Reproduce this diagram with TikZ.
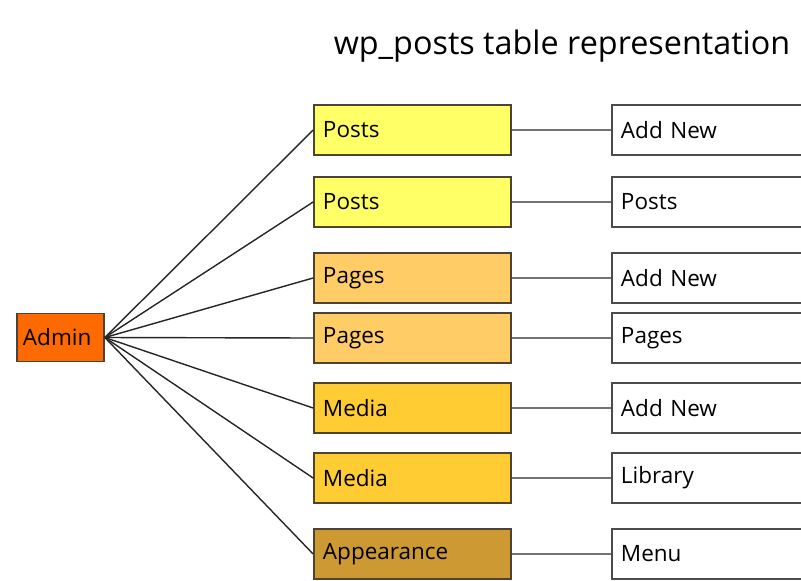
\documentclass[tikz,border=0pt]{standalone}
\usepackage{fontspec}
\setmainfont{Open Sans}
\definecolor{adminorange}{HTML}{FF6A00}
\definecolor{postyellow}{HTML}{FFFF66}
\definecolor{pageorange}{HTML}{FFCC66}
\definecolor{mediaorange}{HTML}{FFCC33}
\definecolor{appearbrown}{HTML}{CC9933}
\definecolor{boxedge}{HTML}{4D4233}
\begin{document}
\begin{tikzpicture}[x=0.025cm,y=-0.025cm,
    box/.style={draw=boxedge,line width=1.2pt,rectangle,minimum height=1.25cm,
      text width=4.475cm,inner sep=0.225cm,align=left,font=\fontsize{16}{19}\selectfont},
    topbox/.style={box,fill=#1},
    subbox/.style={box,draw=black!70,fill=white},
    spoke/.style={black!85,line width=1pt},
    link/.style={black!55,line width=2pt}]
      \useasboundingbox (0,0) rectangle (801,580);
      \node[font=\fontsize{23}{27}\selectfont] (title) at (562,46) {wp\_posts table representation};
      \node[box,fill=adminorange,text width=1.875cm,minimum height=1.2cm,inner sep=0.15cm] (admin) at (60.5,337.5) {Admin};
      \draw
        (412.5,130) node[topbox=postyellow] (0){Posts}
        (412.5,202) node[topbox=postyellow] (1){Posts}
        (412.5,278) node[topbox=pageorange] (2){Pages}
        (412.5,338) node[topbox=pageorange] (3){Pages}
        (412.5,408) node[topbox=mediaorange] (4){Media}
        (412.5,478) node[topbox=mediaorange] (5){Media}
        (412.5,554) node[topbox=appearbrown] (6){Appearance};
      \draw
        (710.5,130) node[subbox] (0s){Add New}
        (710.5,202) node[subbox] (1s){Posts}
        (710.5,278) node[subbox] (2s){Add New}
        (710.5,338) node[subbox] (3s){Pages}
        (710.5,408) node[subbox] (4s){Add New}
        (710.5,478) node[subbox] (5s){Library}
        (710.5,554) node[subbox] (6s){Menu};
      \begin{scope}[spoke]
        \draw (admin.east) to (0.west);
        \draw (admin.east) to (1.west);
        \draw (admin.east) to (2.west);
        \draw (admin.east) to (3.west);
        \draw (admin.east) to (4.west);
        \draw (admin.east) to (5.west);
        \draw (admin.east) to (6.west);
      \end{scope}
      \begin{scope}[link]
        \draw (0) to (0s);
        \draw (1) to (1s);
        \draw (2) to (2s);
        \draw (3) to (3s);
        \draw (4) to (4s);
        \draw (5) to (5s);
        \draw (6) to (6s);
      \end{scope}
    \end{tikzpicture}
\end{document}
